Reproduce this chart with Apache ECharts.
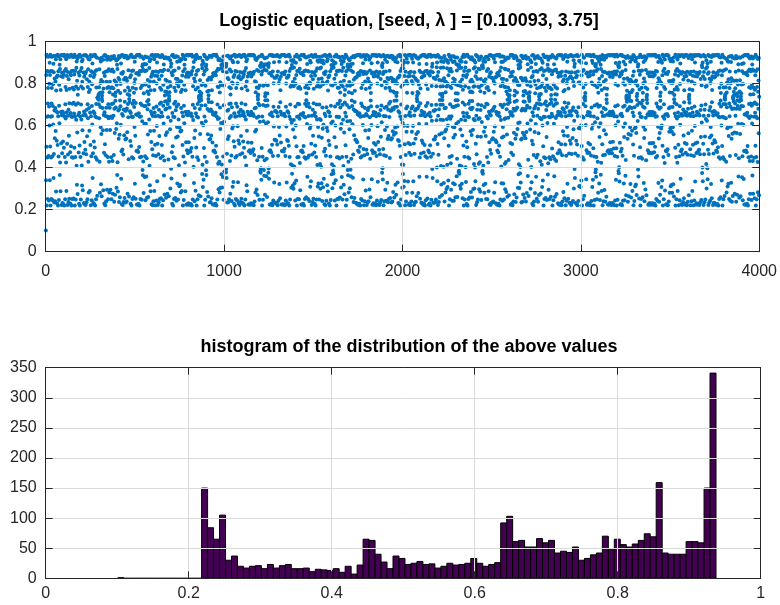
<!DOCTYPE html>
<html>
<head>
<meta charset="utf-8">
<script src="https://cdn.jsdelivr.net/npm/echarts@6/dist/echarts.min.js"></script>
<style>
  html, body { margin: 0; padding: 0; background: #ffffff; }
  #chart { width: 780px; height: 605px; }
</style>
</head>
<body>
<div id="chart"></div>
<script>
const logisticSeed = [0.10093];
const logisticLambda = [3.75];
const logisticCount = [4000];

const topXTicks = [0, 1000, 2000, 3000, 4000];
const topYTicks = [0, 0.2, 0.4, 0.6, 0.8, 1];

// histogram: 100 bins spanning [min, max] of the values above
const histRange = [0.10093, 0.9375];
const histCounts = [
  1, 0, 0, 0, 0, 0, 0, 0, 0, 0,
  0, 0, 0, 0, 150, 84, 65, 105, 30, 37,
  20, 17, 20, 21, 16, 23, 17, 21, 23, 16,
  16, 17, 11, 15, 14, 13, 16, 10, 20, 7,
  22, 65, 63, 40, 27, 16, 37, 33, 23, 25,
  28, 23, 24, 17, 20, 25, 22, 23, 25, 33,
  25, 20, 23, 26, 92, 103, 61, 63, 52, 52,
  66, 59, 63, 42, 45, 43, 52, 30, 33, 39,
  42, 70, 49, 65, 56, 52, 57, 63, 74, 69,
  159, 42, 40, 40, 40, 61, 61, 59, 150, 341
];
const histXTicks = [0, 0.2, 0.4, 0.6, 0.8, 1];
const histYTicks = [0, 50, 100, 150, 200, 250, 300, 350];

const titles = [
  'Logistic equation, [seed, \u03BB ] = [0.10093, 3.75]',
  'histogram of the distribution of the above values'
];

// ---- series construction ----
// the iterated logistic equation named in the title: x(n+1) = lambda * x(n) * (1 - x(n))
const logisticValues = [logisticSeed[0]];
for (let i = 1; i < logisticCount[0]; i++) {
  const x = logisticValues[i - 1];
  logisticValues.push(logisticLambda[0] * x * (1 - x));
}
const scatterData = logisticValues.map((v, i) => [i + 1, v]);

const binW = (histRange[1] - histRange[0]) / histCounts.length;
const histData = histCounts.map((c, i) => [histRange[0] + i * binW, histRange[0] + (i + 1) * binW, c]);

// ---- styling ----
const FONT = "'Liberation Sans', Arial, Helvetica, sans-serif";
const AX = '#262626';
const GRIDC = '#dbdbdb';

function mkAxis(gridIndex, ticks, position, main, margin) {
  return {
    type: 'value',
    gridIndex: gridIndex,
    position: position,
    min: ticks[0],
    max: ticks[ticks.length - 1],
    interval: ticks[1] - ticks[0],
    axisLine: { show: true, onZero: false, lineStyle: { color: AX, width: 1 } },
    axisTick: { show: true, inside: true, length: 7, lineStyle: { color: AX, width: 1 } },
    axisLabel: {
      show: main,
      color: AX,
      fontSize: 16,
      fontFamily: FONT,
      margin: margin,
      formatter: v => String(Math.round(v * 1000) / 1000)
    },
    splitLine: { show: main, lineStyle: { color: GRIDC, width: 1 } },
    z: 5
  };
}

const chart = echarts.init(document.getElementById('chart'), null, { renderer: 'canvas' });

chart.setOption({
  animation: false,
  backgroundColor: '#ffffff',
  title: [
    {
      text: titles[0], left: 404, top: 7, textAlign: 'center',
      textStyle: { fontFamily: FONT, fontWeight: 'bold', fontSize: 18, color: '#000000' }
    },
    {
      text: titles[1], left: 404, top: 333, textAlign: 'center',
      textStyle: { fontFamily: FONT, fontWeight: 'bold', fontSize: 18, color: '#000000' }
    }
  ],
  grid: [
    { left: 45.7, top: 41.7, width: 715, height: 210, containLabel: false },
    { left: 45.7, top: 367.7, width: 715, height: 210.6, containLabel: false }
  ],
  xAxis: [
    mkAxis(0, topXTicks, 'bottom', true, 12),
    mkAxis(0, topXTicks, 'top', false, 8),
    mkAxis(1, histXTicks, 'bottom', true, 7),
    mkAxis(1, histXTicks, 'top', false, 8)
  ],
  yAxis: [
    mkAxis(0, topYTicks, 'left', true, 9),
    mkAxis(0, topYTicks, 'right', false, 8),
    mkAxis(1, histYTicks, 'left', true, 9),
    mkAxis(1, histYTicks, 'right', false, 8)
  ],
  series: [
    {
      type: 'scatter',
      xAxisIndex: 0,
      yAxisIndex: 0,
      data: scatterData,
      symbol: 'circle',
      symbolSize: 4,
      large: false,
      itemStyle: { color: '#0072BD', opacity: 1 },
      silent: true,
      z: 3
    },
    {
      type: 'custom',
      xAxisIndex: 2,
      yAxisIndex: 2,
      data: histData,
      encode: { x: [0, 1], y: 2 },
      renderItem: function (params, api) {
        const p0 = api.coord([api.value(0), api.value(2)]);
        const p1 = api.coord([api.value(1), 0]);
        return {
          type: 'rect',
          shape: { x: p0[0], y: p0[1], width: p1[0] - p0[0], height: p1[1] - p0[1] },
          style: { fill: '#440154', stroke: '#000000', lineWidth: 1 }
        };
      },
      silent: true,
      z: 3
    }
  ]
});
</script>
</body>
</html>
